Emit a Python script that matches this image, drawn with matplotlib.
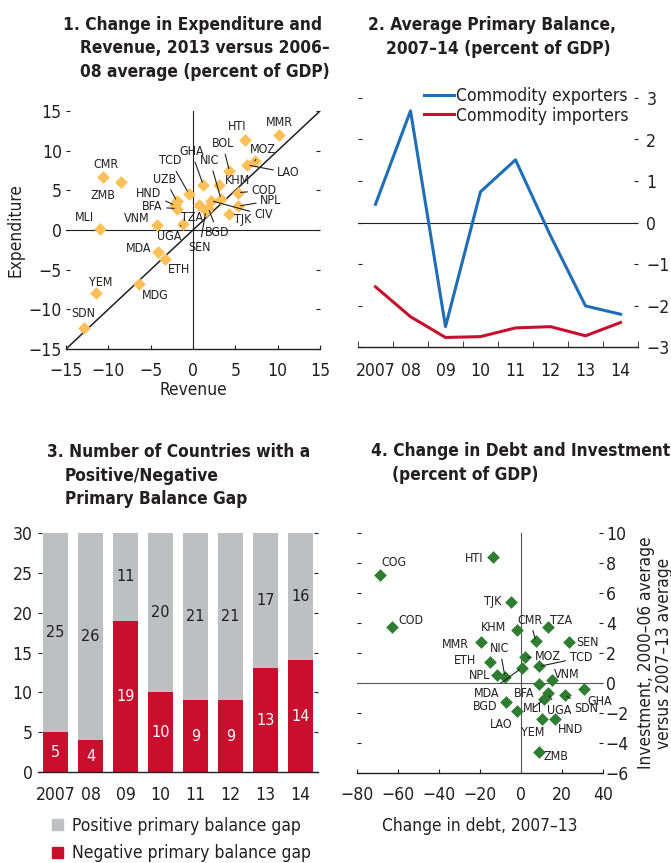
import numpy as np
import matplotlib
matplotlib.use("Agg")
import matplotlib.pyplot as plt
from matplotlib import font_manager as fm
from matplotlib.patches import Patch

# pick the narrowest sans available (reference uses a condensed face)
fonts = fm.fontManager.ttflist
names = {f.name for f in fonts}
if 'Liberation Sans Narrow' in names:
    plt.rcParams['font.family'] = ['Liberation Sans Narrow', 'DejaVu Sans']
    k = 1.2
elif any(f.name == 'DejaVu Sans' and 'condensed' in str(f.stretch) for f in fonts):
    plt.rcParams['font.family'] = ['DejaVu Sans']
    plt.rcParams['font.stretch'] = 'condensed'
    k = 0.97
elif 'Liberation Sans' in names:
    plt.rcParams['font.family'] = ['Liberation Sans', 'DejaVu Sans']
    k = 1.0
else:
    plt.rcParams['font.family'] = ['DejaVu Sans']
    k = 0.87

plt.rcParams['text.color'] = '#231f20'
plt.rcParams['axes.labelcolor'] = '#231f20'
plt.rcParams['xtick.color'] = '#231f20'
plt.rcParams['ytick.color'] = '#231f20'

# ---- data ----
# panel 1 : change in revenue / expenditure
p1_codes = ['MMR', 'HTI', 'MOZ', 'LAO', 'BOL', 'CMR', 'ZMB', 'GHA', 'KHM', 'TCD',
            'COD', 'UZB', 'HND', 'BFA', 'NIC', 'CIV', 'TZA', 'BGD', 'SEN', 'NPL',
            'TJK', 'VNM', 'UGA', 'MLI', 'MDA', 'ETH', 'MDG', 'YEM', 'SDN']
p1_revenue = [10.2, 6.1, 7.3, 6.4, 4.3, -10.6, -8.5, 1.2, 3.1, -0.5,
              5.3, -1.9, -2.1, -1.9, 3.3, 2.1, 0.7, 1.8, 1.5, 5.3,
              4.3, -4.2, -1.2, -11.0, -4.1, -3.3, -6.4, -11.5, -12.9]
p1_expend = [12.0, 11.3, 8.7, 8.2, 7.4, 6.7, 6.0, 5.7, 5.7, 4.6,
             4.7, 3.6, 3.1, 2.7, 3.9, 3.7, 3.2, 2.8, 2.4, 3.0,
             2.0, 0.6, 0.8, 0.1, -2.8, -3.6, -6.8, -8.0, -12.4]

# panel 2 : average primary balance
years = ['2007', '08', '09', '10', '11', '12', '13', '14']
exporters = [0.44, 2.69, -2.51, 0.74, 1.51, -0.32, -2.01, -2.21]
importers = [-1.55, -2.27, -2.77, -2.75, -2.54, -2.51, -2.73, -2.41]

# panel 3 : number of countries
negative_gap = [5, 4, 19, 10, 9, 9, 13, 14]
positive_gap = [25, 26, 11, 20, 21, 21, 17, 16]

# panel 4 : change in debt / investment
p4_codes = ['HTI', 'COG', 'TJK', 'COD', 'KHM', 'TZA', 'CMR', 'SEN', 'MMR', 'MOZ',
            'ETH', 'TCD', 'MDA', 'NPL', 'NIC', 'VNM', 'BFA', 'GHA', 'SDN', 'UGA',
            'MLI', 'BGD', 'LAO', 'YEM', 'HND', 'ZMB']
p4_debt = [-13.5, -68.8, -5.1, -63.1, -2.1, 13.4, 7.2, 23.5, -19.7, 1.9,
           -15.0, 8.6, 0.3, -11.7, -7.8, 14.9, 8.7, 30.5, 21.4, 13.0,
           11.0, -7.2, -1.8, 10.4, 16.5, 9.0]
p4_invest = [8.4, 7.2, 5.4, 3.7, 3.5, 3.7, 2.8, 2.7, 2.7, 1.7,
             1.4, 1.1, 1.0, 0.5, 0.4, 0.2, -0.1, -0.4, -0.8, -0.7,
             -1.1, -1.3, -1.9, -2.4, -2.4, -4.6]

# label placement (label x, label y, leader line)
p1_lab = {'MMR': (10.2, 13.5, 0), 'HTI': (5.2, 13.0, 0), 'BOL': (3.5, 10.9, 1),
          'MOZ': (8.3, 10.2, 1), 'LAO': (11.3, 7.2, 1), 'GHA': (-0.2, 9.9, 1),
          'TCD': (-2.7, 8.7, 1), 'NIC': (2.0, 8.8, 1), 'UZB': (-3.3, 6.4, 1),
          'KHM': (5.2, 6.2, 0), 'COD': (8.4, 5.0, 1), 'HND': (-5.2, 4.6, 1),
          'BFA': (-4.8, 2.9, 1), 'NPL': (9.2, 3.7, 1), 'CIV': (8.3, 1.9, 1),
          'TJK': (5.9, 1.3, 0), 'TZA': (-0.1, 1.6, 0), 'BGD': (2.9, -0.3, 1),
          'SEN': (0.8, -2.2, 1), 'VNM': (-6.6, 1.4, 0), 'UGA': (-2.8, -0.8, 1),
          'MLI': (-12.8, 1.6, 0), 'CMR': (-10.3, 8.2, 0), 'ZMB': (-10.6, 4.3, 0),
          'MDA': (-6.4, -2.3, 0), 'ETH': (-1.7, -5.0, 0), 'MDG': (-4.5, -8.2, 0),
          'YEM': (-10.9, -6.6, 0), 'SDN': (-13.0, -10.5, 0)}
p4_lab = {'HTI': (-23.0, 8.3, 0), 'COG': (-62.2, 8.0, 0), 'TJK': (-14.0, 5.4, 0),
          'COD': (-53.8, 4.2, 0), 'CMR': (4.4, 4.2, 1), 'TZA': (19.7, 4.2, 0),
          'KHM': (-13.4, 3.7, 0), 'MMR': (-32.1, 2.6, 0), 'SEN': (32.6, 2.7, 0),
          'NIC': (-10.3, 2.3, 1), 'MOZ': (12.9, 1.8, 1), 'TCD': (29.2, 1.7, 1),
          'ETH': (-27.2, 1.5, 0), 'NPL': (-20.4, 0.5, 0), 'VNM': (22.5, 0.6, 0),
          'MDA': (-16.8, -0.7, 1), 'BFA': (1.5, -0.7, 0), 'GHA': (38.5, -1.25, 0),
          'BGD': (-17.6, -1.6, 0), 'MLI': (5.5, -1.7, 1), 'UGA': (18.6, -1.8, 1),
          'SDN': (31.6, -1.7, 1), 'LAO': (-9.5, -2.8, 0), 'YEM': (5.5, -3.3, 0),
          'HND': (24.3, -3.1, 0), 'ZMB': (17.1, -4.9, 0)}

orange = '#fdbf57'
green = '#2f7d32'
blue = '#1f6db5'
red = '#c8102e'
grey = '#bebfc1'
dark = '#231f20'

fs_tick = 13 * k
fs_title = 12.8 * k
fs_code = 9.2 * k
fs_leg = 13 * k
fs_bar = 12 * k
fs_lab = 12.8 * k

W, H = 671, 863
fig = plt.figure(figsize=(W / 100, H / 100), dpi=100)


def box(l, t, r, b):
    # pixel box -> figure fraction
    return [l / W, 1 - b / H, (r - l) / W, (b - t) / H]


def label_points(ax, xs, ys, codes, lab):
    for x, y, c in zip(xs, ys, codes):
        lx, ly, lead = lab[c]
        if lead:
            ax.annotate(c, (x, y), xytext=(lx, ly), ha='center', va='center',
                        fontsize=fs_code, color=dark,
                        arrowprops=dict(arrowstyle='-', lw=0.8, color=dark,
                                        shrinkA=1, shrinkB=2))
        else:
            ax.text(lx, ly, c, ha='center', va='center', fontsize=fs_code, color=dark)


def clean(ax):
    for s in ['top', 'left', 'right']:
        ax.spines[s].set_visible(False)
    ax.spines['bottom'].set_color(dark)
    ax.spines['bottom'].set_linewidth(1.0)


title_kw = dict(fontsize=fs_title, fontweight='bold', va='center', ha='left')

# ---- panel 1 ----
ax1 = fig.add_axes(box(66, 111, 320, 349))
clean(ax1)
ax1.axhline(0, color=dark, lw=0.8)
ax1.axvline(0, color=dark, lw=0.8)
ax1.axline((0, 0), slope=1, color=dark, lw=1.1)
ax1.scatter(p1_revenue, p1_expend, marker='D', s=42, color=orange, zorder=3, linewidths=0)
label_points(ax1, p1_revenue, p1_expend, p1_codes, p1_lab)
ax1.set_xlim(-15, 15)
ax1.set_ylim(-15, 15)
ax1.set_xticks(range(-15, 16, 5))
ax1.set_yticks(range(-15, 16, 5))
ax1.tick_params(axis='both', direction='in', length=3, labelsize=fs_tick)
ax1.tick_params(axis='x', pad=9)
ax1.tick_params(axis='y', right=True, pad=3)
ax1.set_xlabel('Revenue', fontsize=fs_lab, labelpad=1)
ax1.set_ylabel('Expenditure', fontsize=fs_lab, labelpad=3)
fig.text(63 / W, 1 - 25 / H, '1. Change in Expenditure and', **title_kw)
fig.text(80 / W, 1 - 48 / H, 'Revenue, 2013 versus 2006–', **title_kw)
fig.text(80 / W, 1 - 72 / H, '08 average (percent of GDP)', **title_kw)

# ---- panel 2 ----
ax2 = fig.add_axes(box(358, 98, 638, 347))
clean(ax2)
x = np.arange(len(years))
ax2.axhline(0, color=dark, lw=0.8)
ax2.plot(x, exporters, color=blue, lw=2.2, label='Commodity exporters')
ax2.plot(x, importers, color=red, lw=2.2, label='Commodity importers')
ax2.set_xlim(-0.5, len(years) - 0.5)
ax2.set_ylim(-3, 3)
ax2.set_xticks(x)
ax2.set_xticklabels(years)
ax2.set_xticks(np.arange(-0.5, len(years), 1), minor=True)
ax2.tick_params(axis='x', which='major', length=0, labelsize=fs_tick, pad=11)
ax2.tick_params(axis='x', which='minor', direction='in', length=4, color=dark)
ax2.set_yticks(range(-3, 4))
ax2.tick_params(axis='y', direction='in', length=3, labelsize=fs_tick, left=True, right=True,
                labelleft=False, labelright=True, pad=6)
ax2.legend(loc='upper right', bbox_to_anchor=(0.965, 1.045), frameon=False, fontsize=fs_leg,
           handlelength=1.7, handletextpad=0.1, labelspacing=0.1, borderpad=0,
           borderaxespad=0)
fig.text(368 / W, 1 - 25 / H, '2. Average Primary Balance,', **title_kw)
fig.text(386 / W, 1 - 49 / H, '2007–14 (percent of GDP)', **title_kw)

# ---- panel 3 ----
ax3 = fig.add_axes(box(38, 533, 318, 772))
clean(ax3)
ax3.bar(x, negative_gap, width=0.72, color=red, zorder=2)
ax3.bar(x, positive_gap, width=0.72, bottom=negative_gap, color=grey, zorder=2)
for i in range(len(years)):
    ax3.text(x[i], negative_gap[i] / 2, str(negative_gap[i]), ha='center', va='center',
             color='white', fontsize=fs_bar)
    ax3.text(x[i], negative_gap[i] + positive_gap[i] / 2, str(positive_gap[i]),
             ha='center', va='center', color=dark, fontsize=fs_bar)
ax3.set_xlim(-0.5, len(years) - 0.5)
ax3.set_ylim(0, 30)
ax3.set_xticks(x)
ax3.set_xticklabels(years)
ax3.tick_params(axis='x', length=0, labelsize=fs_tick, pad=10)
ax3.set_yticks(range(0, 31, 5))
ax3.tick_params(axis='y', direction='in', length=3, labelsize=fs_tick, right=True, pad=4)
ax3.legend(handles=[Patch(color=grey, label='Positive primary balance gap'),
                    Patch(color=red, label='Negative primary balance gap')],
           loc='upper left', bbox_to_anchor=(0.02, -0.15), frameon=False, fontsize=fs_leg,
           handlelength=0.6, handleheight=0.6, handletextpad=0.5, labelspacing=0.55,
           borderpad=0)
fig.text(47 / W, 1 - 452 / H, '3. Number of Countries with a', **title_kw)
fig.text(65 / W, 1 - 476 / H, 'Positive/Negative', **title_kw)
fig.text(65 / W, 1 - 499 / H, 'Primary Balance Gap', **title_kw)

# ---- panel 4 ----
ax4 = fig.add_axes(box(357, 533, 603, 773))
clean(ax4)
ax4.axhline(0, color='#555555', lw=0.8)
ax4.axvline(0, color='#555555', lw=0.8)
ax4.scatter(p4_debt, p4_invest, marker='D', s=42, color=green, zorder=3, linewidths=0)
label_points(ax4, p4_debt, p4_invest, p4_codes, p4_lab)
ax4.set_xlim(-80, 40)
ax4.set_ylim(-6, 10)
ax4.set_xticks(range(-80, 41, 20))
ax4.tick_params(axis='x', direction='in', length=3, labelsize=fs_tick, pad=9)
ax4.set_yticks(range(-6, 11, 2))
ax4.tick_params(axis='y', direction='in', length=3, labelsize=fs_tick, left=True, right=True,
                labelleft=False, labelright=True, pad=2)
ax4.yaxis.set_label_position('right')
ax4.set_ylabel('Investment, 2000–06 average\nversus 2007–13 average', fontsize=fs_lab,
               labelpad=6, linespacing=0.95)
ax4.set_xlabel('Change in debt, 2007–13', fontsize=fs_lab, labelpad=10)
fig.text(371 / W, 1 - 451 / H, '4. Change in Debt and Investment', **title_kw)
fig.text(392 / W, 1 - 475 / H, '(percent of GDP)', **title_kw)

fig.savefig('out.png', dpi=100)
